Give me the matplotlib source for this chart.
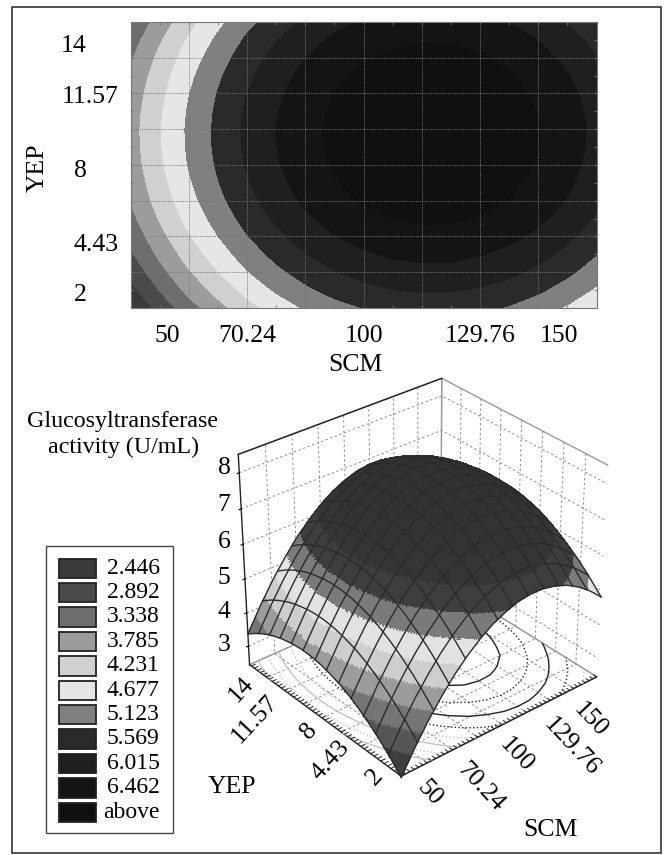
#!/usr/bin/env python
"""Glucosyltransferase activity vs SCM and YEP: contour map, 3D surface, level legend."""
import matplotlib
matplotlib.use("Agg")
import matplotlib.pyplot as plt
import numpy as np
from matplotlib.colors import BoundaryNorm, ListedColormap
from matplotlib.patches import Rectangle
from mpl_toolkits.mplot3d import proj3d
from mpl_toolkits.mplot3d.art3d import Line3DCollection

plt.rcParams["font.family"] = ["Liberation Serif", "DejaVu Serif"]

W, H = 664, 855

# values
SCM = [40.48, 47.92, 55.36, 62.80, 70.24, 77.68, 85.12, 92.56, 100.0,
       107.44, 114.88, 122.32, 129.76, 137.20, 144.64, 152.08, 159.52]
YEP = [0.86, 1.75, 2.65, 3.54, 4.43, 5.32, 6.22, 7.11, 8.0,
       8.89, 9.79, 10.68, 11.57, 12.46, 13.36, 14.25, 15.14]
ACTIVITY = [
    [1.99, 2.60, 3.15, 3.63, 4.06, 4.42, 4.72, 4.96, 5.13, 5.25, 5.30, 5.29, 5.21, 5.08, 4.88, 4.62, 4.30],
    [2.30, 2.91, 3.46, 3.94, 4.37, 4.73, 5.03, 5.27, 5.44, 5.56, 5.61, 5.60, 5.52, 5.39, 5.19, 4.93, 4.61],
    [2.58, 3.19, 3.74, 4.22, 4.65, 5.01, 5.31, 5.55, 5.72, 5.84, 5.89, 5.88, 5.80, 5.67, 5.47, 5.21, 4.89],
    [2.82, 3.43, 3.98, 4.46, 4.89, 5.25, 5.55, 5.79, 5.96, 6.08, 6.13, 6.12, 6.04, 5.91, 5.71, 5.45, 5.13],
    [3.03, 3.64, 4.19, 4.67, 5.10, 5.46, 5.76, 6.00, 6.17, 6.29, 6.34, 6.33, 6.25, 6.12, 5.92, 5.66, 5.34],
    [3.21, 3.82, 4.37, 4.85, 5.28, 5.64, 5.94, 6.18, 6.35, 6.47, 6.52, 6.51, 6.43, 6.30, 6.10, 5.84, 5.52],
    [3.36, 3.97, 4.52, 5.00, 5.43, 5.79, 6.09, 6.33, 6.50, 6.62, 6.67, 6.66, 6.58, 6.45, 6.25, 5.99, 5.67],
    [3.46, 4.07, 4.62, 5.10, 5.53, 5.89, 6.19, 6.43, 6.60, 6.72, 6.77, 6.76, 6.68, 6.55, 6.35, 6.09, 5.77],
    [3.54, 4.15, 4.70, 5.18, 5.61, 5.97, 6.27, 6.51, 6.68, 6.80, 6.85, 6.84, 6.76, 6.63, 6.43, 6.17, 5.85],
    [3.58, 4.19, 4.74, 5.22, 5.65, 6.01, 6.31, 6.55, 6.72, 6.84, 6.89, 6.88, 6.80, 6.67, 6.47, 6.21, 5.89],
    [3.59, 4.20, 4.75, 5.23, 5.66, 6.02, 6.32, 6.56, 6.73, 6.85, 6.90, 6.89, 6.81, 6.68, 6.48, 6.22, 5.90],
    [3.56, 4.17, 4.72, 5.20, 5.63, 5.99, 6.29, 6.53, 6.70, 6.82, 6.87, 6.86, 6.78, 6.65, 6.45, 6.19, 5.87],
    [3.50, 4.11, 4.66, 5.14, 5.57, 5.93, 6.23, 6.47, 6.64, 6.76, 6.81, 6.80, 6.72, 6.59, 6.39, 6.13, 5.81],
    [3.41, 4.02, 4.57, 5.05, 5.48, 5.84, 6.14, 6.38, 6.55, 6.67, 6.72, 6.71, 6.63, 6.50, 6.30, 6.04, 5.72],
    [3.28, 3.89, 4.44, 4.92, 5.35, 5.71, 6.01, 6.25, 6.42, 6.54, 6.59, 6.58, 6.50, 6.37, 6.17, 5.91, 5.59],
    [3.12, 3.73, 4.28, 4.76, 5.19, 5.55, 5.85, 6.09, 6.26, 6.38, 6.43, 6.42, 6.34, 6.21, 6.01, 5.75, 5.43],
    [2.92, 3.53, 4.08, 4.56, 4.99, 5.35, 5.65, 5.89, 6.06, 6.18, 6.23, 6.22, 6.14, 6.01, 5.81, 5.55, 5.23],
]

LEVELS = [2.446, 2.892, 3.338, 3.785, 4.231, 4.677, 5.123, 5.569, 6.015, 6.462]
LEGEND_LABELS = ["2.446", "2.892", "3.338", "3.785", "4.231", "4.677",
                 "5.123", "5.569", "6.015", "6.462", "above"]
FLAT_COLORS = ["#3a3a3a", "#4a4a4a", "#6e6e6e", "#9c9c9c", "#d0d0d0", "#e6e6e6",
               "#808080", "#2a2a2a", "#1f1f1f", "#141414", "#101010"]
SURF_COLORS = ["#3e3e3e", "#565656", "#757575", "#9c9c9c", "#cecece", "#e2e2e2",
               "#7a7a7a", "#3e3e3e", "#353535", "#333333", "#323232"]

SCM_LABELS = ["50", "70.24", "100", "129.76", "150"]
SCM_VALUES = [50, 70.24, 100, 129.76, 150]
YEP_LABELS = ["14", "11.57", "8", "4.43", "2"]
YEP_VALUES = [14, 11.57, 8, 4.43, 2]
Z_LABELS = ["3", "4", "5", "6", "7", "8"]
GRID_SCM = [55.36, 70.24, 85.12, 100, 114.88, 129.76, 144.64]
GRID_YEP = [2.65, 4.43, 6.22, 8, 9.79, 11.57, 13.36]

# the 3D panel's z axis reads higher than the legend levels
SURF_GAIN, SURF_SHIFT = 1.05, 0.30

x = np.array(SCM)
y = np.array(YEP)
z = np.array(ACTIVITY)
bounds = [0] + LEVELS + [12]

fig = plt.figure(figsize=(W / 100, H / 100), dpi=100)


def px_rect(left, top, right, bottom):
    return [left / W, 1 - bottom / H, (right - left) / W, (bottom - top) / H]


# overlay in pixel coords for frame, legend and loose labels
ov = fig.add_axes([0, 0, 1, 1], zorder=5)
ov.set_xlim(0, W); ov.set_ylim(H, 0); ov.axis("off"); ov.patch.set_alpha(0)
ov.add_patch(Rectangle((12, 7), 649, 846, fc="none", ec="#333333", lw=1.2))

# ---- contour map
ax = fig.add_axes(px_rect(130.5, 22, 596.6, 308))
ax.contourf(x, y, z, levels=bounds, colors=FLAT_COLORS)
ax.vlines(GRID_SCM, y[0], y[-1], color="#777777", lw=0.7, ls=(0, (1, 1.2)))
ax.hlines(GRID_YEP, x[0], x[-1], color="#777777", lw=0.7, ls=(0, (1, 1.2)))
ax.set_xlim(x[0], x[-1]); ax.set_ylim(y[0], y[-1])
ax.set_xticks(SCM_VALUES, SCM_LABELS, fontsize=18.5)
ax.set_yticks([])
ax.set_xticks(x[1:-1], minor=True)
ax.set_yticks(y[1:-1], minor=True)
ax.tick_params(axis="x", which="major", length=0, pad=12)
ax.tick_params(which="minor", direction="in", length=2, width=0.6, color="#777777",
               top=True, right=True)
for s in ax.spines.values():
    s.set_color("#777777"); s.set_linewidth(0.8)
for lbl, v, off, dy in zip(YEP_LABELS, YEP_VALUES, [44, 12, 44, 12, 44], [-1, -4, -6, -9, -10]):
    ax.annotate(lbl, xy=(0, v), xycoords=("axes fraction", "data"), xytext=(-off, dy),
                textcoords="offset pixels", ha="right", va="center", fontsize=18.5)
ov.text(38, 168, "YEP", rotation=90, ha="center", va="center", fontsize=18.5)
ov.text(355, 365, "SCM", ha="center", va="center", fontsize=18.5)

# ---- 3D surface
ax3 = fig.add_axes(px_rect(169, 340, 663, 810), projection="3d", computed_zorder=False)
ax3.patch.set_alpha(0)
ax3.set_proj_type("persp", focal_length=0.8)
ax3.view_init(elev=31.5, azim=-130)
ax3.set_box_aspect((1.0, 0.95, 0.95), zoom=0.9)
z_floor, z_top = 2.43, 8.5
ax3.set_xlim(x[0], x[-1]); ax3.set_ylim(y[0], y[-1]); ax3.set_zlim(z_floor, z_top)
ax3.set_xticks(GRID_SCM); ax3.set_yticks(GRID_YEP); ax3.set_zticks([3, 4, 5, 6, 7, 8])
ax3.set_xticklabels([]); ax3.set_yticklabels([]); ax3.set_zticklabels([])
for a in (ax3.xaxis, ax3.yaxis, ax3.zaxis):
    a.set_pane_color((1, 1, 1, 1))
    a.pane.set_edgecolor("#999999")
    a.line.set_color("#222222")
    a.line.set_linewidth(1.0)
    a._axinfo["grid"].update(color="#8c8c8c", linewidth=0.7, linestyle=(0, (2.5, 2.5)))
    a._axinfo["tick"].update(inward_factor=0.0, outward_factor=0.0)
ax3.zaxis._axinfo["tick"].update(inward_factor=0.12, outward_factor=0.0)
ax3.plot([x[0], x[-1]], [y[-1], y[-1]], [z_top, z_top], color="#222222", lw=1.0, zorder=0.5)

# floor contours
floor_styles = {3.338: ("#c4c4c4", "-"), 3.785: ("#c4c4c4", ":"), 4.231: ("#c4c4c4", "-"),
                4.677: ("#c4c4c4", ":"), 5.123: ("#222222", ":"), 5.569: ("#222222", "-"),
                6.015: ("#222222", ":"), 6.462: ("#222222", "-")}
for lev, (c, ls) in floor_styles.items():
    ax3.contour(x, y, z, levels=[lev], zdir="z", offset=z_floor, colors=c,
                linestyles=ls, linewidths=1.0, zorder=1)

# floor edge ticks
seg = []
for v in np.arange(x[0], x[-1], 2.48):
    seg.append([(v, y[0], z_floor), (v, y[0] + 0.3, z_floor)])
for v in np.arange(y[0], y[-1], 0.3):
    seg.append([(x[0], v, z_floor), (x[0] + 2.5, v, z_floor)])
ax3.add_collection3d(Line3DCollection(seg, colors="#222222", linewidths=0.7, zorder=1))

# finer sampling only so the band edges fall across the mesh cells
STEP = 12
xf = np.interp(np.arange(0, len(x) - 1 + 1e-9, 1 / STEP), np.arange(len(x)), x)
yf = np.interp(np.arange(0, len(y) - 1 + 1e-9, 1 / STEP), np.arange(len(y)), y)
zf = np.array([np.interp(xf, x, row) for row in z])
zf = np.array([np.interp(yf, y, col) for col in zf.T]).T
Xf, Yf = np.meshgrid(xf, yf)
Zs = zf * SURF_GAIN + SURF_SHIFT
cmap = ListedColormap(SURF_COLORS)
norm = BoundaryNorm(bounds, cmap.N)
ax3.plot_surface(Xf, Yf, Zs, rstride=1, cstride=1, facecolors=cmap(norm(zf)), shade=False,
                 linewidth=0, antialiased=False, zorder=2)

# mesh lines: only where the surface faces the viewer (the dome hides the rest)
M = ax3.get_proj()
px_, py_, _ = proj3d.proj_transform(Xf.ravel(), Yf.ravel(), Zs.ravel(), M)
px_ = px_.reshape(Xf.shape); py_ = py_.reshape(Xf.shape)
area = (np.gradient(px_, axis=1) * np.gradient(py_, axis=0)
        - np.gradient(px_, axis=0) * np.gradient(py_, axis=1))
front = np.sign(np.median(area[:STEP * 4, :STEP * 4]))
vis = area * front > 0
mesh_idx = np.linspace(0, Xf.shape[0] - 1, 14).round().astype(int)
for i in mesh_idx:
    ax3.plot(Xf[i], Yf[i], np.where(vis[i], Zs[i], np.nan), color="#2b2b2b", lw=1.0, zorder=3)
for j in mesh_idx:
    ax3.plot(Xf[:, j], Yf[:, j], np.where(vis[:, j], Zs[:, j], np.nan), color="#2b2b2b", lw=1.0, zorder=3)

for lbl, cx, cy in zip(SCM_LABELS, [430, 480, 516, 571, 590], [793, 787, 755, 747, 720]):
    ov.text(cx, cy, lbl, rotation=-47, ha="center", va="center", fontsize=18.5)
for lbl, cx, cy in zip(YEP_LABELS, [241, 255, 309, 330, 375], [689, 719, 731, 760, 777]):
    ov.text(cx, cy, lbl, rotation=47, ha="center", va="center", fontsize=18.5)
for lbl, cy in zip(Z_LABELS, [645, 612, 578, 542, 505, 468]):
    ov.text(224, cy, lbl, ha="center", va="center", fontsize=18.5)
ov.text(232, 787, "YEP", ha="center", va="center", fontsize=18.5)
ov.text(550, 830, "SCM", ha="center", va="center", fontsize=18.5)
ov.text(123, 421, "Glucosyltransferase", ha="center", va="center", fontsize=17.3)
ov.text(123, 447, "activity (U/mL)", ha="center", va="center", fontsize=17.3)

# ---- legend
ov.add_patch(Rectangle((46, 546), 127, 287, fc="white", ec="#444444", lw=1.0))
for i, (lbl, c) in enumerate(zip(LEGEND_LABELS, FLAT_COLORS)):
    ty = 558.5 + 24.4 * i
    ov.add_patch(Rectangle((58.5, ty), 37.5, 19.5, fc=c, ec="#222222", lw=1.3))
    ov.text(159.5, ty + 9.5, lbl, ha="right", va="center", fontsize=17)

fig.savefig("out.png", dpi=100)
